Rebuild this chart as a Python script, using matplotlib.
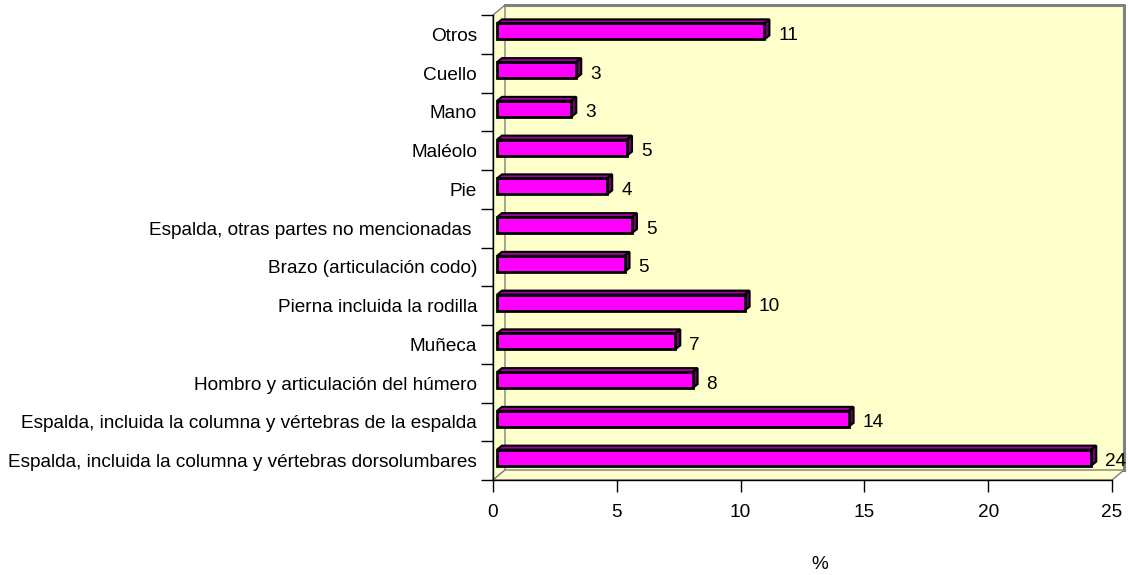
import numpy as np
import matplotlib
matplotlib.use('Agg')
from matplotlib import pyplot as plt
from matplotlib.patches import Rectangle, Polygon

# categorias (de abajo hacia arriba) y valores en %
cats = ['Espalda, incluida la columna y vértebras dorsolumbares',
        'Espalda, incluida la columna y vértebras de la espalda',
        'Hombro y articulación del húmero',
        'Muñeca',
        'Pierna incluida la rodilla',
        'Brazo (articulación codo)',
        'Espalda, otras partes no mencionadas ',
        'Pie',
        'Maléolo',
        'Mano',
        'Cuello',
        'Otros']
vals = [24.0, 14.2, 7.9, 7.2, 10.0, 5.15, 5.45, 4.45, 5.25, 3.0, 3.2, 10.8]
xticks = [0, 5, 10, 15, 20, 25]

plt.rcParams['font.family'] = ['Liberation Sans', 'DejaVu Sans']
FS = 13.7

fig = plt.figure(figsize=(11.28, 5.75), dpi=100)
W, H = 1128., 575.
ax = fig.add_axes([493/W, (H-480)/H, (1112-493)/W, (480-15)/H])
ax.set_xlim(0, 25); ax.set_ylim(-0.5, len(cats)-0.5)
ax.set_facecolor('none')

# pixels -> unidades de datos (eje lineal, tamaño fijo)
bb = ax.get_position()
ppx = bb.width*W/25.; ppy = bb.height*H/len(cats)
def px(dx, dy): return dx/ppx, dy/ppy

# paredes 3D (coordenadas de ejes)
wx, wy = 12/(bb.width*W), 10/(bb.height*H)
wall = '#FFFFCC'; grey = '#808080'
ax.add_patch(Polygon([(wx, wy), (1+wx, wy), (1+wx, 1+wy), (wx, 1+wy)], closed=True,
                     transform=ax.transAxes, fc=wall, ec='none', zorder=0, clip_on=False))
ax.add_patch(Polygon([(0, 0), (0, 1), (wx, 1+wy), (wx, wy)], closed=True,
                     transform=ax.transAxes, fc=wall, ec=grey, lw=1, zorder=0, clip_on=False))
ax.add_patch(Polygon([(0, 0), (1, 0), (1+wx, wy), (wx, wy)], closed=True,
                     transform=ax.transAxes, fc=wall, ec=grey, lw=1, zorder=0, clip_on=False))
ax.plot([wx, 1+wx, 1+wx], [1+wy, 1+wy, wy], color=grey, lw=2.2,
        transform=ax.transAxes, clip_on=False, zorder=0.5)

# barras 3D
ox, oy = px(4, 3)
ddx, ddy = px(5, 4)
h = 16/ppy
for i, v in enumerate(vals):
    y0 = i+oy-h/2; y1 = i+oy+h/2
    ax.add_patch(Polygon([(ox, y1), (ox+v, y1), (ox+v+ddx, y1+ddy), (ox+ddx, y1+ddy)],
                         closed=True, fc='#A000A0', ec='black', lw=1.5, zorder=3, clip_on=False))
    ax.add_patch(Polygon([(ox+v, y0), (ox+v, y1), (ox+v+ddx, y1+ddy), (ox+v+ddx, y0+ddy)],
                         closed=True, fc='#700070', ec='black', lw=1.5, zorder=3, clip_on=False))
    ax.add_patch(Rectangle((ox, y0), v, h, fc='#FF00FF', ec='black', lw=2, zorder=4,
                           clip_on=False))
    ax.annotate('%.0f' % v, (ox+v+ddx, i), xytext=(9, -1), textcoords='offset pixels',
                ha='left', va='center', fontsize=FS, zorder=5)

# ejes
for s in ['top', 'right']: ax.spines[s].set_visible(False)
for s in ['left', 'bottom']:
    ax.spines[s].set_color('black'); ax.spines[s].set_linewidth(1); ax.spines[s].set_zorder(2)
ax.set_xticks(xticks)
ax.set_xticklabels([str(t) for t in xticks], fontsize=FS)
ax.set_yticks(np.arange(-0.5, len(cats), 1))
ax.set_yticklabels([])
ax.set_yticks(np.arange(len(cats)), minor=True)
ax.set_yticklabels(cats, minor=True, fontsize=FS)
ax.tick_params(axis='x', direction='out', length=8.6, width=1, pad=8.5, color='black')
ax.tick_params(axis='y', which='major', direction='out', length=8.6, width=1)
ax.tick_params(axis='y', which='minor', length=0, pad=11.5)
ax.set_xlabel('%', fontsize=FS)
ax.xaxis.set_label_coords((820-493)/(bb.width*W), (480-556)/(bb.height*H))

fig.savefig('out.png', dpi=100)
